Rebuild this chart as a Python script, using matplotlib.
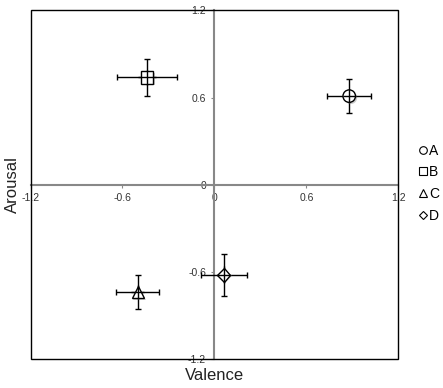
import matplotlib
matplotlib.use('Agg')
import matplotlib.pyplot as plt
import matplotlib.patheffects as pe
from matplotlib.patches import Rectangle
from matplotlib.lines import Line2D

plt.rcParams['font.family'] = ['Liberation Sans', 'DejaVu Sans']

# Data
labels = ['A', 'B', 'C', 'D']
markers = ['o', 's', '^', 'D']
marker_sizes = [9, 9, 9, 7]
valence = [0.88, -0.44, -0.50, 0.06]
arousal = [0.61, 0.74, -0.74, -0.62]
valence_err = [0.145, 0.195, 0.14, 0.15]
arousal_err = [0.118, 0.126, 0.117, 0.145]
ticks = [-1.2, -0.6, 0, 0.6, 1.2]
tick_labels = ['-1.2', '-0.6', '0', '0.6', '1.2']

fig = plt.figure(figsize=(4.43, 3.88), dpi=100)
ax = fig.add_axes([0.069, 0.075, 0.830, 0.898])

shadow = [pe.SimplePatchShadow(offset=(1.2, -1.2), shadow_rgbFace='#999999', alpha=0.5), pe.Normal()]

for i in range(len(labels)):
    ax.errorbar(valence[i], arousal[i], xerr=valence_err[i], yerr=arousal_err[i],
                fmt='none', ecolor='black', elinewidth=1, capsize=2, capthick=1, zorder=3)
    ax.plot(valence[i], arousal[i], marker=markers[i], markersize=marker_sizes[i],
            markerfacecolor='white', markeredgecolor='black', markeredgewidth=1,
            linestyle='none', zorder=4, path_effects=shadow)
    # error bar lines visible through the marker, as in the reference
    ax.errorbar(valence[i], arousal[i], xerr=valence_err[i] * 0.3, yerr=arousal_err[i] * 0.4,
                fmt='none', ecolor='black', elinewidth=1, capsize=0, zorder=4.5)

ax.set_xlim(-1.2, 1.2)
ax.set_ylim(-1.2, 1.2)

# axis lines through the origin
for side in ['left', 'bottom']:
    ax.spines[side].set_position(('data', 0))
    ax.spines[side].set_color('#888888')
    ax.spines[side].set_linewidth(1.5)
for side in ['right', 'top']:
    ax.spines[side].set_visible(False)
ax.add_patch(Rectangle((0, 0), 1, 1, transform=ax.transAxes, fill=False,
                       edgecolor='black', linewidth=1, zorder=5, clip_on=False))

ax.set_xticks(ticks)
ax.set_xticklabels(tick_labels)
ax.set_yticks(ticks)
ax.set_yticklabels(tick_labels)
ax.tick_params(axis='both', labelsize=7.5, length=2, width=0.8, color='#888888',
               labelcolor='#333333', pad=4)

ax.text(0.5, -0.025, 'Valence', transform=ax.transAxes, ha='center', va='top', fontsize=12, color='#222222')
ax.text(-0.048, 0.5, 'Arousal', transform=ax.transAxes, ha='center', va='center',
        rotation=90, fontsize=12, color='#222222')

legend_sizes = [5.5, 5.5, 6, 4.5]
handles = [Line2D([], [], marker=m, markersize=s, markerfacecolor='none', markeredgecolor='black',
                  markeredgewidth=0.8, linestyle='none') for m, s in zip(markers, legend_sizes)]
fig.legend(handles, labels, loc='center left', bbox_to_anchor=(0.948, 0.528), frameon=False,
           fontsize=10, handlelength=0.5, handletextpad=0.15, labelspacing=0.55, borderpad=0,
           borderaxespad=0)

fig.savefig('out.png', dpi=100)
